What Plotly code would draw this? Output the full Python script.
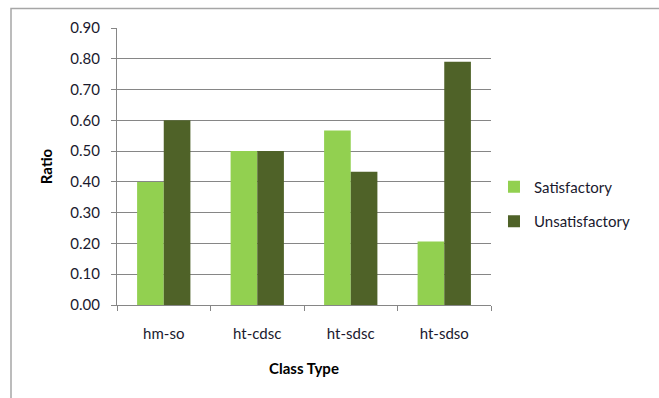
import plotly.graph_objects as go

categories = ["hm-so", "ht-cdsc", "ht-sdsc", "ht-sdso"]
satisfactory = [0.40, 0.50, 0.567, 0.206]
unsatisfactory = [0.60, 0.50, 0.433, 0.79]
y_ticks = [0.0, 0.1, 0.2, 0.3, 0.4, 0.5, 0.6, 0.7, 0.8, 0.9]

FONT = "Lato"
TXT = "#1a1a2e"
fig = go.Figure()
fig.add_trace(go.Bar(name="Satisfactory", x=categories, y=satisfactory, legendgroup="a",
                     marker=dict(color="#92d050", line=dict(width=0))))
fig.add_trace(go.Bar(name="Unsatisfactory", x=categories, y=unsatisfactory, legendgroup="b",
                     marker=dict(color="#4f6228", line=dict(width=0))))

W, H = 659, 398
L, R, T, B = 117, 491, 28, 305
fig.update_layout(
    width=W, height=H, autosize=False,
    margin=dict(l=L, r=W - R, t=T, b=H - B, pad=0),
    paper_bgcolor="white", plot_bgcolor="white",
    barmode="group", bargap=0.43, bargroupgap=0,
    font=dict(family=FONT, size=15, color=TXT),
    legend=dict(x=1.008, y=0.365, xanchor="left", yanchor="middle",
                font=dict(family=FONT, size=15, color=TXT),
                tracegroupgap=12, itemwidth=30),
    xaxis=dict(
        showline=True, linecolor="#868686", linewidth=1,
        ticks="outside", tickson="boundaries", ticklen=5, tickcolor="#868686",
        showgrid=False, ticklabelstandoff=15,
        title=dict(text="<b>Class Type</b>", font=dict(family=FONT, size=15, color="#000000"), standoff=22),
    ),
    yaxis=dict(
        range=[0, 0.9], tickvals=y_ticks, tickformat=".2f",
        showline=True, linecolor="#868686", linewidth=1,
        ticks="outside", ticklen=5, tickcolor="#868686",
        showgrid=True, gridcolor="#868686", gridwidth=1,
        zeroline=False, ticklabelstandoff=8,
        title=dict(text="<b>Ratio</b>", font=dict(family=FONT, size=15, color="#000000"), standoff=14),
    ),
    shapes=[dict(type="rect", xref="paper", yref="paper",
                 x0=(11 - L) / (R - L), x1=(W + 20 - L) / (R - L),
                 y0=(B - (H + 20)) / (B - T), y1=(B - 8.5) / (B - T),
                 line=dict(color="#a6a6a6", width=1.5), fillcolor="rgba(0,0,0,0)",
                 layer="below")],
)
fig.write_html("out.html")
